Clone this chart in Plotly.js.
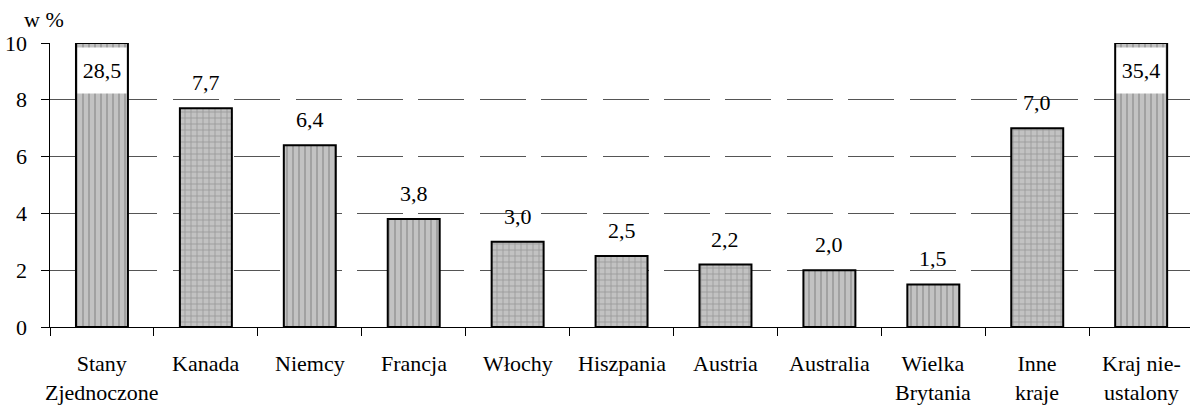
<!DOCTYPE html>
<html>
<head>
<meta charset="utf-8">
<script src="https://cdn.plot.ly/plotly-3.0.1.min.js"></script>
<style>
  html, body { margin: 0; padding: 0; background: #fff; }
  #chart { width: 1190px; height: 405px; }
</style>
</head>
<body>
<div id="chart"></div>
<script>
// ---- data ----
const categories = ["Stany<br>Zjednoczone", "Kanada", "Niemcy", "Francja", "Włochy", "Hiszpania",
                    "Austria", "Australia", "Wielka<br>Brytania", "Inne<br>kraje", "Kraj nie-<br>ustalony"];
const shares = [28.5, 7.7, 6.4, 3.8, 3.0, 2.5, 2.2, 2.0, 1.5, 7.0, 35.4];
const yTickValues = [0, 2, 4, 6, 8, 10];
const yAxisMax = 10;
const unitLabel = "w %";

// ---- styles (separate from data) ----
const patternShapes = ["|", "+", "|", "|", "+", "+", "+", "|", "|", "+", "|"];
const FONT = "Liberation Serif, DejaVu Serif, serif";
const TXT = { family: FONT, size: 22, color: "#000" };

const fmt = v => v.toFixed(1).replace(".", ",");
const shown = shares.map(v => Math.min(v, yAxisMax));

const trace = {
  type: "bar",
  x: categories,
  y: shown,
  marker: {
    color: "#c0c0c0",
    line: { color: "#000", width: 2 },
    pattern: {
      shape: patternShapes,
      bgcolor: "#c2c2c2",
      fgcolor: "#6a6a6a",
      size: 6,
      solidity: 0.25,
      fillmode: "overlay"
    }
  },
  hoverinfo: "skip"
};

const annotations = [];
shares.forEach((v, i) => {
  if (v > yAxisMax) {
    annotations.push({
      x: categories[i], y: yAxisMax * 0.903, xref: "x", yref: "y",
      text: fmt(v), showarrow: false,
      bgcolor: "#ffffff", width: 48, height: 45, borderpad: 0,
      font: TXT, xanchor: "center", yanchor: "middle"
    });
  } else {
    annotations.push({
      x: categories[i], y: v, xref: "x", yref: "y",
      text: fmt(v), showarrow: false,
      font: TXT, xanchor: "center", yanchor: "bottom", yshift: 11
    });
  }
  annotations.push({
    x: categories[i], y: 0, xref: "x", yref: "paper",
    text: categories[i], showarrow: false,
    font: TXT, xanchor: "center", yanchor: "top", yshift: -22
  });
});
yTickValues.forEach(t => {
  annotations.push({
    x: 0, y: t, xref: "paper", yref: "y",
    text: String(t), showarrow: false,
    font: TXT, xanchor: "right", yanchor: "middle", xshift: -21
  });
});
annotations.push({
  x: 0, y: 1, xref: "paper", yref: "paper",
  xshift: -28, yshift: 24,
  text: unitLabel, showarrow: false,
  font: TXT, xanchor: "left", yanchor: "middle"
});

const layout = {
  width: 1190, height: 405,
  margin: { l: 50, r: 0, t: 43, b: 78 },
  paper_bgcolor: "#fff",
  plot_bgcolor: "#fff",
  showlegend: false,
  bargap: 0.5,
  font: TXT,
  xaxis: {
    type: "category",
    range: [-0.5, 10.47],
    showline: true, linecolor: "#000", linewidth: 1,
    ticks: "outside", tickson: "boundaries", ticklen: 8, tickcolor: "#000", tickwidth: 1,
    showticklabels: false,
    showgrid: false,
    fixedrange: true
  },
  yaxis: {
    range: [0, yAxisMax],
    tickvals: yTickValues,
    showticklabels: false,
    showline: true, linecolor: "#000", linewidth: 1,
    ticks: "outside", ticklen: 8, tickcolor: "#000", tickwidth: 1,
    showgrid: true, gridcolor: "#555", gridwidth: 1, griddash: "46px,15.4px",
    zeroline: false,
    fixedrange: true
  },
  annotations: annotations
};

Plotly.newPlot("chart", [trace], layout, { displayModeBar: false, staticPlot: true });
</script>
</body>
</html>
